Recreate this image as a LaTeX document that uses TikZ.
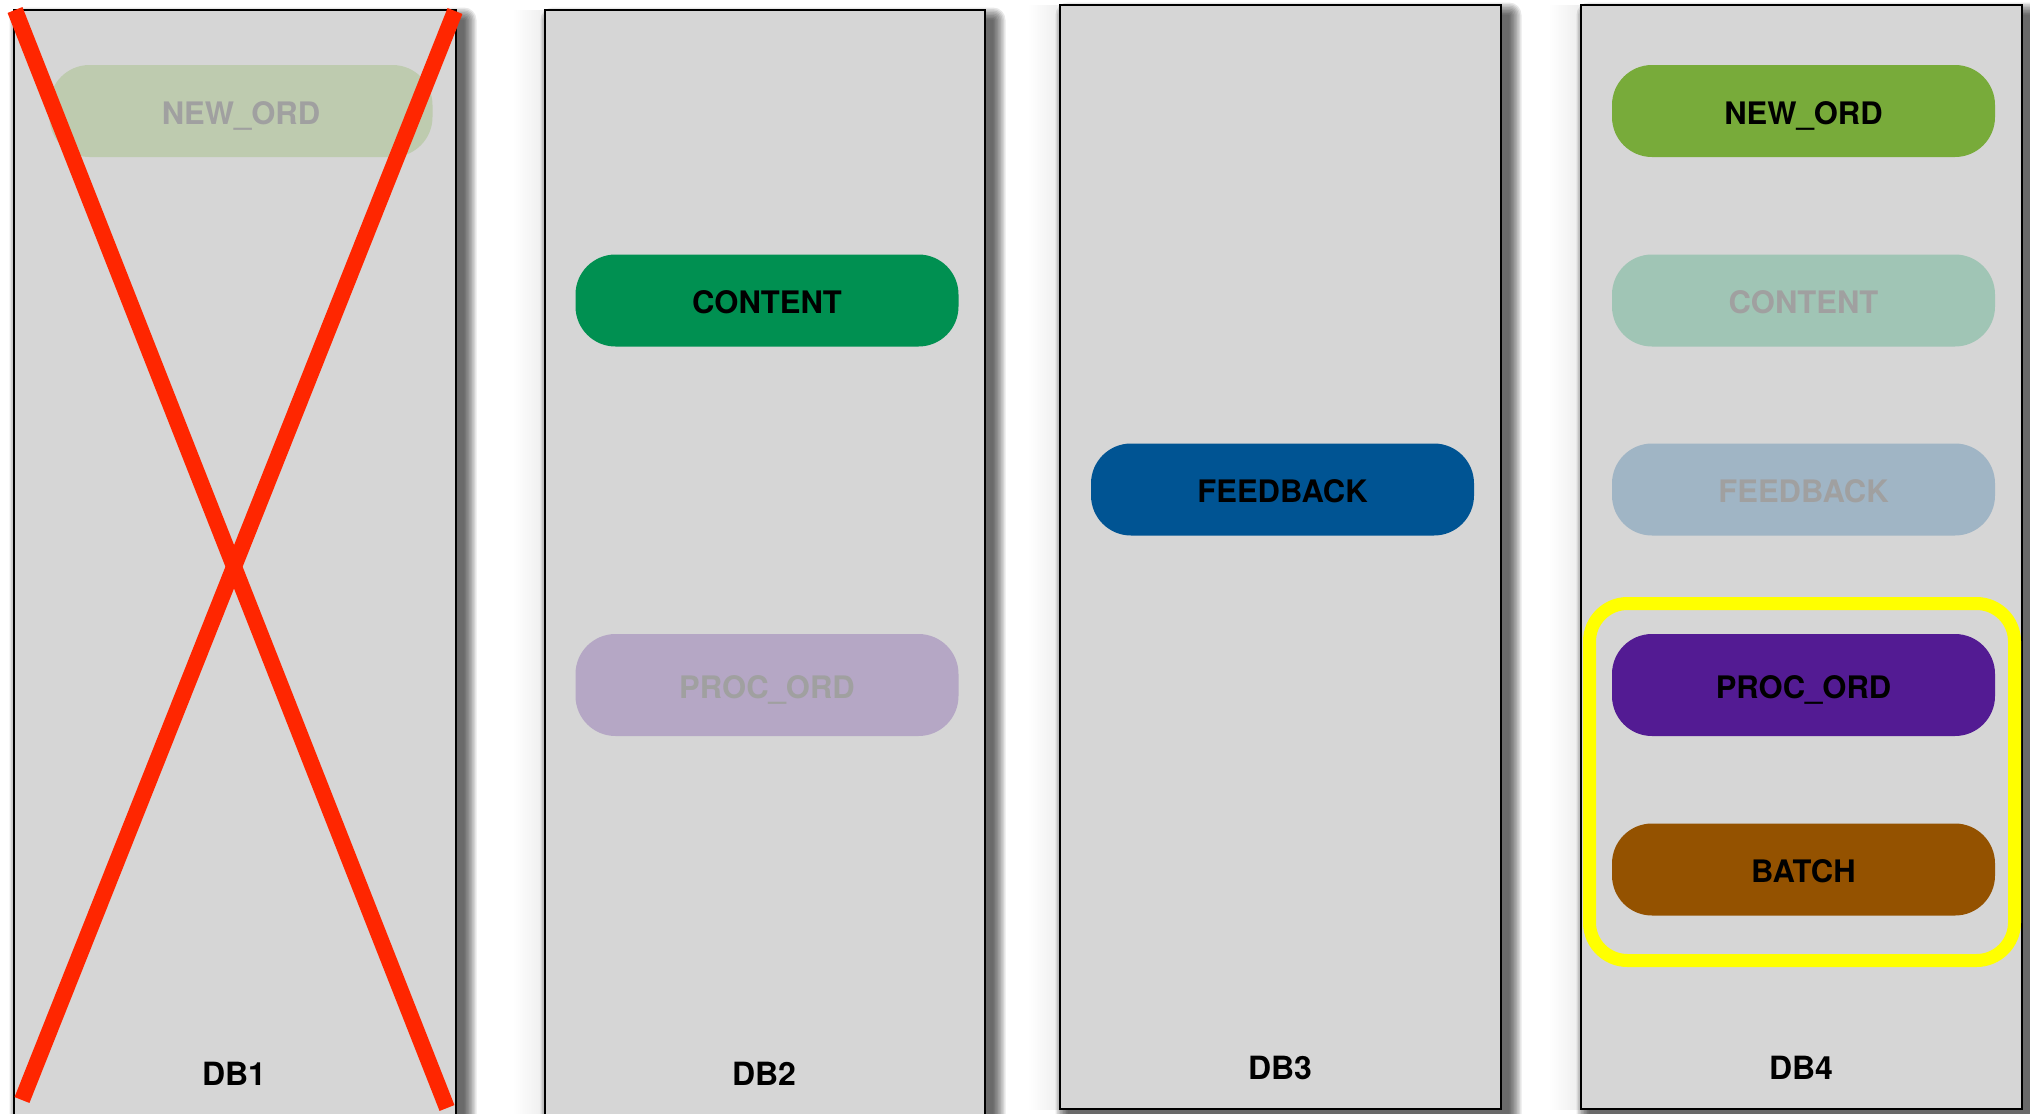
\documentclass[tikz,border=0pt]{standalone}
\usepackage{fontspec}
\setmainfont{TeX Gyre Heros}
\usetikzlibrary{shadings}

\definecolor{panelgray}{HTML}{D6D6D6}
\definecolor{neworder}{HTML}{78AB3A}
\definecolor{contentc}{HTML}{009051}
\definecolor{feedbackc}{HTML}{005493}
\definecolor{procord}{HTML}{531B93}
\definecolor{batchc}{HTML}{945200}
\definecolor{fadedtext}{HTML}{A0A0A0}
\definecolor{crossred}{HTML}{FF2600}
\definecolor{marker}{HTML}{FFFF00}

% soft drop shadow behind a database column: x1 y1 x2 y2
\newcommand\dbshadow[4]{%
  \foreach \r in {0.5,2,...,12.5}{%
    \fill[black, opacity=0.09, rounded corners=\r pt]
      (#1+8-\r, #2+10-\r) rectangle (#3+8+\r, #4+10+\r);
  }}
% faint halo on the left side of a column: x y1 y2
\newcommand\dbhalo[3]{%
  \shade[left color=white, right color=black!7] (#1-32, #2) rectangle (#1, #3);}

\begin{document}
\begin{tikzpicture}[x=1pt, y=-1pt,
  panel/.style={draw=black, line width=2.8pt, fill=panelgray, inner sep=0pt},
  pill/.style={rounded corners=40pt, minimum width=383pt, minimum height=92pt,
    inner sep=0pt, text height=26pt, text depth=0pt,
    font=\fontsize{31pt}{36pt}\selectfont\bfseries},
  tallpill/.style={pill, minimum height=102pt},
  live/.style={fill=#1, text=black},
  faded/.style={fill=#1!25!panelgray, text=fadedtext},
  dblabel/.style={inner sep=0pt, text height=23pt, text depth=0pt,
    font=\fontsize{32pt}{36pt}\selectfont\bfseries},
  cross/.style={draw=crossred, line width=16pt},
  highlight/.style={draw=marker, line width=13pt, rounded corners=38pt}
]
\useasboundingbox (0,0) rectangle (2030,1114);
\clip (0,0) rectangle (2030,1114);
\fill[white] (0,0) rectangle (2030,1114);

% halos and shadows
\dbhalo{545}{10}{1114}
\dbhalo{1060}{5}{1109}
\dbhalo{1581}{5}{1109}
\dbshadow{14}{10}{456}{1140}
\dbshadow{545}{10}{985}{1140}
\dbshadow{1060}{5}{1501}{1109}
\dbshadow{1581}{5}{2022}{1109}

% database columns
\node[panel, minimum width=442pt, minimum height=1130pt] (db1) at (235,575) {};
\node[panel, minimum width=440pt, minimum height=1130pt] (db2) at (765,575) {};
\node[panel, minimum width=441pt, minimum height=1104pt] (db3) at (1280.5,557) {};
\node[panel, minimum width=441pt, minimum height=1104pt] (db4) at (1801.5,557) {};

% tables in DB1
\node[pill, faded=neworder] (d1new) at (241,111) {NEW\_ORD};
% tables in DB2
\node[pill, live=contentc] (d2content) at (767,300.5) {CONTENT};
\node[tallpill, faded=procord] (d2proc) at (767,685) {PROC\_ORD};
% tables in DB3
\node[pill, live=feedbackc] (d3feed) at (1282.5,489.5) {FEEDBACK};
% tables in DB4
\node[pill, live=neworder] (d4new) at (1803.5,111) {NEW\_ORD};
\node[pill, faded=contentc] (d4content) at (1803.5,300.5) {CONTENT};
\node[pill, faded=feedbackc] (d4feed) at (1803.5,489.5) {FEEDBACK};
\node[tallpill, live=procord] (d4proc) at (1803.5,685) {PROC\_ORD};
\node[pill, live=batchc] (d4batch) at (1803.5,869.5) {BATCH};

% column labels
\node[dblabel] (l1) at (234,1074) {DB1};
\node[dblabel] (l2) at (764,1074) {DB2};
\node[dblabel] (l3) at (1280,1068) {DB3};
\node[dblabel] (l4) at (1801,1068) {DB4};

% DB1 crossed out
\coordinate (xa) at (15,10);
\coordinate (xb) at (447,1108);
\coordinate (xc) at (455,11);
\coordinate (xd) at (22,1100);
\draw[cross] (xa) -- (xb);
\draw[cross] (xc) -- (xd);

% highlighted group in DB4
\coordinate (hl) at (1589.5,603.5);
\coordinate (hr) at (2014.5,960.5);
\draw[highlight] (hl) rectangle (hr);
\end{tikzpicture}
\end{document}
